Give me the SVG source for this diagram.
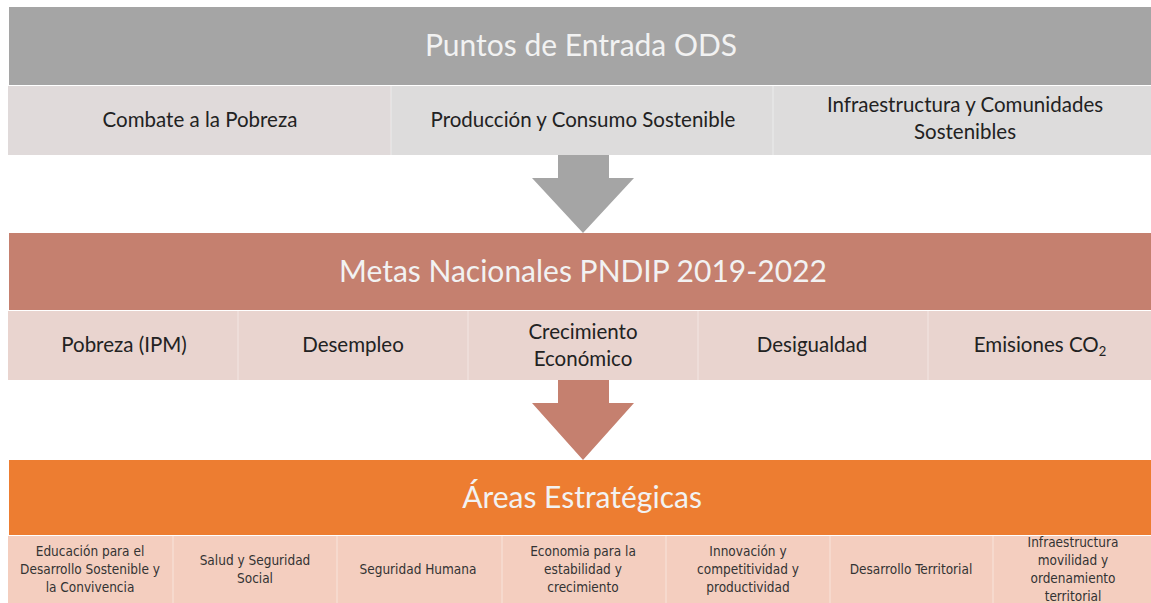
<svg xmlns="http://www.w3.org/2000/svg" width="1151" height="603" viewBox="0 0 1151 603">
<style>
.title{font-family:Lato,"Liberation Sans",sans-serif;font-size:30px;fill:#f2f2f2;text-anchor:middle}
.sub{font-family:Lato,"Liberation Sans",sans-serif;font-size:20.5px;fill:#222;text-anchor:middle}
.small{font-family:"DejaVu Sans Condensed","Liberation Sans Narrow","Liberation Sans",sans-serif;font-size:13.5px;fill:#333;text-anchor:middle}
.cellA{fill:#e0dada}
.cellB{fill:#dddcdc}
.cellM{fill:#e9d4cf}
.cellO{fill:#f4cebf}
.sep{stroke:#ffffff;stroke-opacity:0.45;stroke-width:1}
</style>
<rect width="1151" height="603" fill="#ffffff"/>
<g id="ods">
  <rect x="9" y="7" width="1142" height="78" fill="#a5a5a5"/>
  <text class="title" x="581" y="56">Puntos de Entrada ODS</text>
</g>
<g id="ods-items">
  <rect class="cellA" x="8" y="86" width="383" height="69"/>
  <rect class="cellB" x="391" y="86" width="382" height="69"/>
  <rect class="cellB" x="773" y="86" width="378" height="69"/>
  <line class="sep" x1="391" y1="86" x2="391" y2="155"/>
  <line class="sep" x1="773" y1="86" x2="773" y2="155"/>
  <text class="sub" x="200" y="127">Combate a la Pobreza</text>
  <text class="sub" x="583" y="127">Producción y Consumo Sostenible</text>
  <text class="sub" x="965" y="112">Infraestructura y Comunidades</text>
  <text class="sub" x="965" y="139">Sostenibles</text>
</g>
<g id="metas">
  <rect x="9" y="233" width="1142" height="77" fill="#c5806f"/>
  <text class="title" x="583" y="282">Metas Nacionales PNDIP 2019-2022</text>
</g>
<g id="metas-items">
  <rect class="cellM" x="8" y="311" width="1143" height="69"/>
  <line class="sep" x1="238" y1="311" x2="238" y2="380"/>
  <line class="sep" x1="468" y1="311" x2="468" y2="380"/>
  <line class="sep" x1="698" y1="311" x2="698" y2="380"/>
  <line class="sep" x1="928" y1="311" x2="928" y2="380"/>
  <text class="sub" x="124" y="352">Pobreza (IPM)</text>
  <text class="sub" x="353" y="352">Desempleo</text>
  <text class="sub" x="583" y="339">Crecimiento</text>
  <text class="sub" x="583" y="366">Económico</text>
  <text class="sub" x="812" y="352">Desigualdad</text>
  <text class="sub" x="1040" y="352">Emisiones CO<tspan font-size="13" dy="4">2</tspan></text>
</g>
<g id="areas">
  <rect x="9" y="460" width="1142" height="75" fill="#ed7d31"/>
  <text class="title" x="582" y="508">Áreas Estratégicas</text>
</g>
<g id="areas-items">
  <rect class="cellO" x="8" y="536" width="1143" height="67"/>
  <line class="sep" x1="173" y1="536" x2="173" y2="603"/>
  <line class="sep" x1="337" y1="536" x2="337" y2="603"/>
  <line class="sep" x1="502" y1="536" x2="502" y2="603"/>
  <line class="sep" x1="666" y1="536" x2="666" y2="603"/>
  <line class="sep" x1="830" y1="536" x2="830" y2="603"/>
  <line class="sep" x1="993" y1="536" x2="993" y2="603"/>
  <text class="small" x="90" y="556">Educación para el</text>
  <text class="small" x="90" y="574">Desarrollo Sostenible y</text>
  <text class="small" x="90" y="592">la Convivencia</text>
  <text class="small" x="255" y="565">Salud y Seguridad</text>
  <text class="small" x="255" y="583">Social</text>
  <text class="small" x="418" y="574">Seguridad  Humana</text>
  <text class="small" x="583" y="556">Economia para la</text>
  <text class="small" x="583" y="574">estabilidad  y</text>
  <text class="small" x="583" y="592">crecimiento</text>
  <text class="small" x="748" y="556">Innovación y</text>
  <text class="small" x="748" y="574">competitividad  y</text>
  <text class="small" x="748" y="592">productividad</text>
  <text class="small" x="911" y="574">Desarrollo Territorial</text>
  <text class="small" x="1073" y="547">Infraestructura</text>
  <text class="small" x="1073" y="565">movilidad y</text>
  <text class="small" x="1073" y="583">ordenamiento</text>
  <text class="small" x="1073" y="601">territorial</text>
</g>
<g id="connectors">
  <polygon points="558,155 609,155 609,178 634,178 583,233 532,178 558,178" fill="#a5a5a5"/>
  <polygon points="558,380 609,380 609,403 634,403 583,460 532,403 558,403" fill="#c5806f"/>
</g>
</svg>
